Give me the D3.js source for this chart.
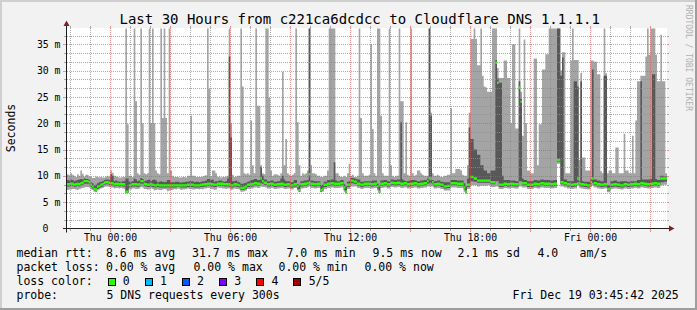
<!DOCTYPE html>
<html><head><meta charset="utf-8">
<script src="https://cdn.jsdelivr.net/npm/d3@7/dist/d3.min.js"></script>
<style>html,body{margin:0;padding:0;background:#f2f2f2;}svg{display:block;}</style>
</head><body>
<svg id="chart" width="697" height="310"></svg>
<script>
// ---------------- data ----------------
const titleText = "Last 30 Hours from c221ca6dcdcc to Cloudflare DNS 1.1.1.1";
const yLabelText = "Seconds";
const watermarkText = "RRDTOOL / TOBI OETIKER";
const startTime = new Date(2025, 11, 17, 21, 51);
const endTime = new Date(2025, 11, 19, 3, 51);
const stepMinutes = 5;
const yMax = 38;

// max ping (ms), one value per 5 minutes
const hi = [
10.3,10.1,10.5,10.2,10.0,9.8,10.3,10.0,11.0,10.4,9.9,10.2,10.2,9.9,9.8,9.6,9.6,9.9,9.8,9.7,
9.8,9.7,9.7,9.9,10.0,9.8,11.0,10.6,10.0,9.9,9.8,9.7,9.7,9.8,9.8,60,19.8,10.0,10.0,9.8,
60,24.2,10.5,10.2,60,20,10.5,10.3,10.5,60,20,60,20,11,10.5,10.3,60,21,60,21,
10.5,60,11,10,9.8,9.8,9.8,9.7,9.7,9.8,9.8,9.7,10,10,21.4,10,10,9.8,9.8,9.8,
9.8,9.9,10,10.1,60,26.5,9.9,11,11,10.5,9.8,9.9,9.7,9.8,9.8,9.9,10,60,20,10.2,
9.8,9.9,10,10,60,27,10.5,10.3,10.5,10.2,20.5,12,10.5,60,23.3,23.3,12,10.5,10.3,60,
60,24.8,11,10,10.3,10.3,10.2,10,10.5,29.8,12,17,10.5,10.2,10,10.2,10.5,60,20.2,12,
10,10.5,10.3,10.5,11,60,12,10.5,10.5,10.3,10,10,9.8,9.8,10,10,11,60,60,60,
60,10.5,10.5,10,9.8,9.8,10,9.8,10.5,12.3,10,10.2,9.8,9.8,10,60,21,10.5,10,10,
10,10.2,35,18.9,10.5,10,60,60,21.4,10.5,10,10,10,60,12,10,9.8,10,10,60,
24.2,24.2,10.5,20.2,10.2,10,60,10.5,10,10.2,11,11,10.5,10.2,10,10,10,60,22,10.5,
10,10,10.2,10,9.8,9.8,10,10,10.2,10.2,22.9,10.5,10.5,11.3,11.3,11.3,11,10.2,10,10,
12,22,36,36,60,36,31,31,60,29,27,26.8,26,26,26,60,60,60,30.5,28.6,
28.6,28.6,31.9,31.9,28.6,28.6,20,35,35,19,19,60,26,17.6,35.9,20,11,11,10.5,10.5,
32.3,32.3,12,19.8,19.8,30.2,30.2,33.1,33.1,60,60,60,60,60,60,60,30,33.5,33.5,10.5,
10.5,10.5,31.9,60,32,32,32,13,29.6,13.5,13.5,11,11,11,31.9,31.9,31.7,31.7,29.3,29.3,
10.9,10.5,60,29.5,10.5,11,11,10.5,10.5,15.4,15.4,10.5,10.5,10.5,18,11,11,10.5,10.5,17.6,
10.5,20.5,28,28,29,29,29,32.7,60,33,60,60,60,33,28,28,36.8,28,28,10.5
];
// 4th ping (ms)
const q3 = [
9.2,9.1,9.3,9.2,9.0,9.1,9.2,9.3,9.4,9.3,9.5,9.4,9.4,9.2,8.8,8.6,8.2,8.3,8.6,8.8,
8.9,9.0,9.2,9.3,9.3,9.2,10.3,10.0,9.0,9.1,9.0,8.9,8.9,9.0,9.0,9.5,9.5,8.9,8.9,9.0,
9.5,9.3,9.0,9.1,9.6,9.4,9.0,9.1,9.2,9.3,9.0,9.2,9.3,9.1,8.8,8.9,9.0,8.9,8.8,8.9,
9.2,9.2,8.8,8.8,8.8,8.9,8.9,8.8,8.7,8.8,8.8,8.9,8.9,9.0,9.0,9.0,8.8,8.9,8.9,8.8,
8.9,9.0,9.0,9.1,9.4,9.4,9.2,9.3,8.9,9.0,9.0,9.1,9.1,9.0,8.9,9.0,9.5,32.7,17.3,9.0,
9.0,9.1,8.9,8.8,8.5,8.5,8.6,8.7,8.9,9.0,9.2,9.2,9.4,9.4,9.2,9.2,11.7,10.0,9.3,9.3,
9.0,9.0,9.1,9.1,8.9,8.9,9.0,9.0,9.5,10.0,9.3,9.0,9.0,9.0,8.8,8.8,9.2,9.2,8.4,8.2,
9.0,9.0,9.1,9.1,9.2,60,9.1,9.1,9.0,9.0,9.0,9.0,8.2,8.3,8.9,8.9,9.2,9.2,9.3,9.3,
12.6,9.1,9.0,9.0,9.2,9.2,8.4,8.0,8.9,9.0,9.6,9.6,9.5,9.4,9.3,9.3,8.9,8.9,9.0,9.0,
9.0,9.0,9.0,9.1,9.1,9.1,8.5,8.0,9.1,9.1,9.2,9.2,9.0,9.0,9.3,9.3,9.2,9.2,9.3,9.3,
20.2,9.3,9.1,9.0,9.0,9.1,9.2,9.2,9.2,9.1,9.0,9.0,9.1,9.1,9.2,9.2,9.5,60,21.4,9.2,
9.0,9.0,9.1,9.1,8.9,8.9,8.8,8.8,8.8,8.8,9.2,9.2,9.2,9.2,9.1,9.1,9.1,9.1,8.6,8.0,
9.5,19.2,17,17,15,15,14,14,12,12,11,11,10.5,10.5,11,11,11,32,28.5,27.7,
27.7,10,9.2,9.2,9.2,9.2,9.1,9.1,9.1,9.0,9.0,28,24.6,9.5,9.2,9.2,9.0,9.0,9.0,9.0,
9.2,9.2,9.1,9.1,9.3,9.3,9.2,9.2,9.2,9.2,9.1,9.1,9.2,9.2,60,60,29,32.5,9.3,9.3,
9.0,9.0,9.0,9.0,28,28,27,9.0,28,9.0,8.9,8.9,8.9,8.9,9.3,30.2,9.3,9.3,9.1,9.1,
9.0,9.0,29,29,8.2,8.2,9.0,9.0,9.1,9.1,8.9,8.9,9.0,9.0,9.0,9.0,8.9,8.9,9.0,9.0,
9.0,9.0,9.2,9.2,28,9.3,9.3,9.3,9.3,9.3,9.4,29.3,29.3,9.4,9.2,9.2,10.0,10.0,9.9,9.9
];
// median rtt (ms)
const med = [
8.4,8.4,8.5,8.5,8.3,8.4,8.5,8.4,8.6,8.7,9.0,9.0,9.0,8.8,8.3,8.0,7.5,7.4,7.9,8.1,
8.3,8.4,8.7,8.8,8.8,8.7,8.6,8.6,8.4,8.5,8.5,8.4,8.5,8.4,8.4,7.0,7.0,8.2,8.3,8.4,
8.4,8.4,8.3,8.4,9.0,9.0,8.5,8.4,8.3,8.3,8.4,8.3,8.2,8.2,8.3,8.2,8.2,8.2,8.2,8.2,
8.2,8.2,8.2,8.2,8.2,8.2,8.2,8.2,8.2,8.2,8.2,8.2,8.3,8.3,8.3,8.3,8.2,8.2,8.2,8.2,
8.3,8.3,8.4,8.4,8.5,8.5,8.4,8.4,8.3,8.3,8.5,8.5,8.5,8.5,8.4,8.4,8.4,8.4,8.2,8.2,
8.4,8.4,8.3,8.2,7.7,7.7,7.8,8.0,8.3,8.3,8.4,8.4,8.6,8.6,8.5,8.5,9.5,9.0,8.7,8.7,
8.4,8.4,8.5,8.5,8.3,8.3,8.4,8.4,8.5,8.5,8.3,8.3,8.4,8.4,8.2,8.2,8.4,8.4,8.0,7.3,
8.4,8.4,8.5,8.5,8.6,10.3,8.5,8.5,8.4,8.4,8.5,8.5,7.3,7.5,8.3,8.3,8.5,8.5,8.6,8.6,
8.5,8.5,8.5,8.5,8.6,8.6,7.8,7.0,8.3,8.3,9.1,9.1,8.9,8.9,8.5,8.5,8.3,8.3,8.5,8.5,
8.5,8.5,8.4,8.4,8.5,8.5,8.0,7.0,8.5,8.5,8.6,8.6,8.4,8.4,8.7,8.7,8.6,8.6,8.7,8.7,
8.5,8.5,8.6,8.6,8.4,8.4,8.5,8.5,8.6,8.6,8.4,8.4,8.5,8.5,8.6,8.6,9.0,9.5,9.5,8.8,
8.4,8.4,8.5,8.5,8.3,8.3,8.0,8.0,8.1,8.1,8.6,8.6,8.6,8.6,8.5,8.5,8.5,8.5,7.8,7.0,
8.3,8.3,9.8,9.8,9.5,9.5,9.1,9.1,9.1,9.1,9.1,9.1,9.1,9.1,8.8,8.8,8.8,31.5,27.7,8.3,
8.3,8.3,8.5,8.5,8.4,8.4,8.5,8.5,8.4,8.4,8.4,26.8,24.1,8.6,8.6,8.6,8.3,8.3,8.3,8.3,
8.5,8.5,8.4,8.4,8.6,8.6,8.5,8.5,8.5,8.5,8.4,8.4,8.5,8.5,13.0,13.0,8.8,8.8,8.6,8.6,
8.4,8.4,8.3,8.3,8.4,8.4,9.5,8.6,8.4,8.4,8.3,8.3,8.2,8.2,8.8,9.5,8.6,8.6,8.4,8.4,
8.3,8.3,8.4,8.4,7.5,7.5,8.3,8.3,8.4,8.4,8.3,8.3,8.2,8.2,8.4,8.4,8.3,8.3,8.4,8.4,
8.5,8.5,8.4,8.4,8.6,8.6,8.5,8.5,8.4,8.4,8.5,8.5,8.6,8.6,8.5,8.5,9.5,9.5,9.5,9.5
];
// 2nd ping (ms)
const q1 = [
8.0,8.0,8.1,8.1,7.9,8.0,8.1,8.0,8.2,8.3,8.5,8.5,8.5,8.4,7.9,7.6,7.2,7.1,7.5,7.7,
7.9,8.0,8.3,8.4,8.4,8.3,8.2,8.2,8.0,8.1,8.1,8.0,8.1,8.0,8.0,6.8,6.8,7.8,7.9,8.0,
8.0,8.0,7.9,8.0,8.5,8.5,8.1,8.0,7.9,7.9,8.0,7.9,7.8,7.8,7.9,7.8,7.8,7.8,7.8,7.8,
7.8,7.8,7.8,7.8,7.8,7.8,7.9,7.9,7.8,7.8,7.8,7.8,7.9,7.9,7.9,7.9,7.8,7.8,7.8,7.8,
7.9,7.9,8.0,8.0,8.1,8.1,8.0,8.0,7.9,7.9,8.1,8.1,8.1,8.1,8.0,8.0,8.0,8.0,7.8,7.8,
8.0,8.0,7.9,7.8,7.3,7.3,7.4,7.6,7.9,7.9,8.0,8.0,8.2,8.2,8.1,8.1,8.6,8.5,8.3,8.3,
8.0,8.0,8.1,8.1,7.9,7.9,8.0,8.0,8.1,8.1,7.9,7.9,8.0,8.0,7.8,7.8,8.0,8.0,7.5,7.0,
8.0,8.0,8.1,8.1,8.2,9.0,8.1,8.1,8.0,8.0,8.1,8.1,7.0,7.2,7.9,7.9,8.1,8.1,8.2,8.2,
8.1,8.1,8.1,8.1,8.2,8.2,7.3,6.8,7.9,7.9,8.6,8.6,8.5,8.5,8.1,8.1,7.9,7.9,8.1,8.1,
8.1,8.1,8.0,8.0,8.1,8.1,7.6,6.8,8.1,8.1,8.2,8.2,8.0,8.0,8.3,8.3,8.2,8.2,8.3,8.3,
8.1,8.1,8.2,8.2,8.0,8.0,8.1,8.1,8.2,8.2,8.0,8.0,8.1,8.1,8.2,8.2,8.5,8.6,8.6,8.4,
8.0,8.0,8.1,8.1,7.9,7.9,7.6,7.6,7.7,7.7,8.2,8.2,8.2,8.2,8.1,8.1,8.1,8.1,7.4,6.8,
7.9,7.9,9.0,9.0,8.9,8.9,8.7,8.7,8.7,8.7,8.7,8.7,8.7,8.7,8.4,8.4,8.4,9.0,9.0,7.9,
7.9,7.9,8.1,8.1,8.0,8.0,8.1,8.1,8.0,8.0,8.0,9.0,9.0,8.2,8.2,8.2,7.9,7.9,7.9,7.9,
8.1,8.1,8.0,8.0,8.2,8.2,8.1,8.1,8.1,8.1,8.0,8.0,8.1,8.1,12.7,12.7,8.4,8.4,8.2,8.2,
8.0,8.0,7.9,7.9,8.0,8.0,8.8,8.2,8.0,8.0,7.9,7.9,7.8,7.8,8.4,8.7,8.2,8.2,8.0,8.0,
7.9,7.9,8.0,8.0,7.2,7.2,7.9,7.9,8.0,8.0,7.9,7.9,7.8,7.8,8.0,8.0,7.9,7.9,8.0,8.0,
8.1,8.1,8.0,8.0,8.2,8.2,8.1,8.1,8.0,8.0,8.1,8.1,8.2,8.2,8.1,8.1,8.8,8.8,8.9,8.9
];
// min ping (ms)
const lo = [
7.3,7.4,7.4,7.5,7.5,7.4,7.3,7.5,7.6,7.7,7.8,7.9,7.9,7.8,7.4,7.3,7.0,6.9,7.2,7.4,
7.6,7.7,7.9,8.0,8.0,7.9,7.8,7.8,7.6,7.7,7.7,7.6,7.7,7.6,7.5,6.7,6.7,7.4,7.4,7.6,
7.6,7.5,7.5,7.6,7.9,7.8,7.5,7.5,7.4,7.4,7.6,7.5,7.2,7.3,7.4,7.3,7.3,7.4,7.5,7.4,
7.1,7.2,7.3,7.3,7.5,7.4,7.6,7.5,7.3,7.4,7.4,7.5,7.6,7.5,7.5,7.4,7.4,7.5,7.5,7.4,
7.5,7.4,7.6,7.6,7.7,7.7,7.5,7.5,7.3,7.4,7.8,7.7,7.7,7.6,7.6,7.5,7.6,7.6,7.3,7.4,
7.6,7.5,7.5,7.4,7.0,7.0,7.1,7.2,7.5,7.5,7.6,7.6,7.8,7.8,7.7,7.7,8.0,7.9,7.9,7.8,
7.6,7.6,7.7,7.7,7.5,7.5,7.6,7.6,7.7,7.7,7.5,7.5,7.6,7.6,7.4,7.4,7.7,7.7,7.2,6.9,
7.6,7.6,7.7,7.7,7.8,8.0,7.7,7.7,7.6,7.6,7.7,7.7,6.9,7.0,7.5,7.5,7.7,7.7,7.8,7.8,
7.7,7.7,7.7,7.7,7.8,7.8,7.0,6.6,7.5,7.5,8.0,8.0,8.0,8.0,7.7,7.7,7.5,7.5,7.7,7.7,
7.7,7.7,7.6,7.6,7.7,7.7,7.2,6.6,7.7,7.7,7.8,7.8,7.6,7.6,7.9,7.9,7.8,7.8,7.9,7.9,
7.7,7.7,7.8,7.8,7.6,7.6,7.7,7.7,7.8,7.8,7.6,7.6,7.7,7.7,7.8,7.8,8.0,8.0,8.0,8.0,
7.6,7.6,7.7,7.7,7.5,7.5,7.2,7.2,7.2,7.2,7.8,7.8,7.8,7.8,7.7,7.7,7.7,7.7,7.0,6.6,
7.5,7.5,8.2,8.2,8.2,8.2,8.0,8.0,8.1,8.1,8.1,8.1,8.2,8.2,7.9,7.9,7.9,8.0,8.0,7.5,
7.5,7.5,7.7,7.7,7.6,7.6,7.7,7.7,7.6,7.6,7.6,8.0,8.0,7.8,7.8,7.8,7.5,7.5,7.5,7.5,
7.7,7.7,7.6,7.6,7.8,7.8,7.7,7.7,7.7,7.7,7.6,7.6,7.7,7.7,12.3,12.3,8.0,8.0,7.8,7.8,
7.6,7.6,7.5,7.5,7.6,7.6,8.2,7.8,7.6,7.6,7.5,7.5,7.4,7.4,7.9,8.1,7.8,7.8,7.6,7.6,
7.5,7.5,7.6,7.6,6.9,6.9,7.5,7.5,7.6,7.6,7.5,7.5,7.4,7.4,7.6,7.6,7.5,7.5,7.6,7.6,
7.7,7.7,7.6,7.6,7.8,7.8,7.7,7.7,7.6,7.6,7.7,7.7,7.8,7.8,7.7,7.7,8.2,8.2,8.3,8.3
];

const yTickValues = [0, 5, 10, 15, 20, 25, 30, 35];
const yTickLabels = ["0", "5 m", "10 m", "15 m", "20 m", "25 m", "30 m", "35 m"];
const xLabelTimes = [new Date(2025,11,18,0,0), new Date(2025,11,18,6,0), new Date(2025,11,18,12,0), new Date(2025,11,18,18,0), new Date(2025,11,19,0,0)];
const xLabels = ["Thu 00:00", "Thu 06:00", "Thu 12:00", "Thu 18:00", "Fri 00:00"];

const legendRtt = [["median rtt:",16.5],["8.6 ms avg",106],["31.7 ms max",192],["7.0 ms min",286.5],["9.5 ms now",372.5],["2.1 ms sd",457.5],["4.0",537.5],["am/s",579.5]];
const legendLoss = [["packet loss:",16.5],["0.00 % avg",106],["0.00 % max",193.5],["0.00 % min",278.5],["0.00 % now",364.5]];
const lossLabels = ["0","1","2","3","4","5/5"];
const lossColors = ["#26ff00","#00b8ff","#0059ff","#7e00ff","#ff0000","#a10000"];
const probeText = "5 DNS requests every 300s";
const dateText = "Fri Dec 19 03:45:42 2025";

// ---------------- drawing ----------------
const W = 697, H = 310;
const svg = d3.select("#chart");
const MONO = "'DejaVu Sans Mono', monospace";
const plot = {left: 67, right: 667, top: 28.5, bottom: 228.5};

const x = d3.scaleTime().domain([startTime, endTime]).range([plot.left, plot.right]);
const y = d3.scaleLinear().domain([0, yMax]).range([plot.bottom, plot.top]);

// background & frame
svg.append("rect").attr("width", W).attr("height", H).attr("fill", "#f2f2f2");
svg.append("rect").attr("x",0).attr("y",0).attr("width",W).attr("height",2).attr("fill","#cfcfcf");
svg.append("rect").attr("x",0).attr("y",0).attr("width",2).attr("height",H).attr("fill","#cfcfcf");
svg.append("rect").attr("x",0).attr("y",H-2).attr("width",W).attr("height",2).attr("fill","#9e9e9e");
svg.append("rect").attr("x",W-2).attr("y",0).attr("width",2).attr("height",H).attr("fill","#9e9e9e");

// canvas
svg.append("rect").attr("x", plot.left).attr("y", 28).attr("width", plot.right - plot.left).attr("height", 200).attr("fill", "#ffffff");

svg.append("clipPath").attr("id","clip").append("rect")
  .attr("x", plot.left).attr("y", 28).attr("width", plot.right - plot.left).attr("height", 200.5);

const rows = hi.map((h, i) => ({
  t: new Date(+startTime + i * stepMinutes * 60000),
  lo: lo[i], q1: q1[i], med: med[i], q3: q3[i], hi: h
}));
const ext = rows.concat([Object.assign({}, rows[rows.length - 1], {t: endTime})]);
const cap = v => Math.min(v, yMax);

const g = svg.append("g").attr("clip-path", "url(#clip)");
g.append("path").datum(ext)
  .attr("d", d3.area().curve(d3.curveStepAfter).x(d => x(d.t)).y0(d => y(cap(d.lo))).y1(d => y(cap(d.hi))))
  .attr("fill", "#a4a4a4");
g.append("path").datum(ext)
  .attr("d", d3.area().curve(d3.curveStepAfter).x(d => x(d.t)).y0(d => y(cap(d.q1))).y1(d => y(cap(d.q3))))
  .attr("fill", "#585858");
g.append("path").datum(ext)
  .attr("d", d3.area().curve(d3.curveStepAfter).x(d => x(d.t)).y0(d => y(cap(d.med)) + 1.2).y1(d => y(cap(d.med)) - 1.2))
  .attr("fill", lossColors[0]);

// grid
const gridMinor = "rgba(143,143,143,0.75)";
const gridMajor = "rgba(222,79,79,0.6)";
const grid = svg.append("g");
const hourTicks = x.ticks(d3.timeHour.every(1));
hourTicks.forEach(t => {
  const major = t.getHours() % 3 === 0;
  const xx = Math.round(x(t)) + 0.5;
  if (xx <= plot.left + 1 || xx >= plot.right) return;
  const col = major ? gridMajor : gridMinor;
  grid.append("line").attr("x1", xx).attr("x2", xx).attr("y1", 28).attr("y2", 228)
    .attr("stroke", col).attr("stroke-dasharray", "1,1");
  grid.append("line").attr("x1", xx).attr("x2", xx).attr("y1", 26).attr("y2", 28).attr("stroke", col);
  grid.append("line").attr("x1", xx).attr("x2", xx).attr("y1", 229).attr("y2", major ? 232 : 231).attr("stroke", col);
});
const yMinor = d3.range(1, Math.floor(yMax * 3 / 5) + 1).map(k => k * 5 / 3);
yMinor.forEach(v => {
  const major = Math.abs(v / 5 - Math.round(v / 5)) < 1e-6;
  const yy = Math.round(y(v)) + 0.5;
  const col = major ? gridMajor : gridMinor;
  grid.append("line").attr("x1", plot.left).attr("x2", plot.right).attr("y1", yy).attr("y2", yy)
    .attr("stroke", col).attr("stroke-dasharray", "1,1");
  grid.append("line").attr("x1", major ? 63 : 64).attr("x2", 66).attr("y1", yy).attr("y2", yy).attr("stroke", col);
  grid.append("line").attr("x1", plot.right).attr("x2", plot.right + 2).attr("y1", yy).attr("y2", yy).attr("stroke", col);
});

// axes
const axisCol = "#1f1f1f", arrowCol = "#801f1f";
svg.append("line").attr("x1", 63).attr("x2", 671).attr("y1", 228.5).attr("y2", 228.5).attr("stroke", axisCol);
svg.append("line").attr("x1", 66.5).attr("x2", 66.5).attr("y1", 232.5).attr("y2", 24).attr("stroke", axisCol);
svg.append("path").attr("d", "M669,225.5L669,231.5L674.5,228.5Z").attr("fill", arrowCol);
svg.append("path").attr("d", "M63.5,26L69.5,26L66.5,20.5Z").attr("fill", arrowCol);

// y tick labels
svg.append("g").selectAll("text").data(yTickValues).join("text")
  .attr("x", (d, i) => yTickLabels[i].length === 1 ? 48.5 : 60.5)
  .attr("y", d => y(d) + 3.6)
  .attr("text-anchor", "end")
  .attr("font-family", MONO).attr("font-size", "9.8px").attr("fill", "#000")
  .text((d, i) => yTickLabels[i]);

// x labels
svg.append("g").selectAll("text").data(xLabelTimes).join("text")
  .attr("x", d => x(d) + 0.5).attr("y", 240.5)
  .attr("text-anchor", "middle")
  .attr("font-family", MONO).attr("font-size", "9.8px").attr("fill", "#000")
  .text((d, i) => xLabels[i]);

// title
svg.append("text").attr("x", 119.5).attr("y", 24)
  .attr("font-family", MONO).attr("font-size", "14px").attr("fill", "#000")
  .text(titleText);

// y label
svg.append("text").attr("transform", "translate(15,128) rotate(-90)")
  .attr("text-anchor", "middle")
  .attr("font-family", MONO).attr("font-size", "11.5px").attr("fill", "#000")
  .text(yLabelText);

// watermark
svg.append("text").attr("transform", "translate(686,5) rotate(90)")
  .attr("font-family", MONO).attr("font-size", "8px").attr("fill", "#b0b0b0")
  .text(watermarkText);

// legend
const leg = svg.append("g").attr("font-family", MONO).attr("font-size", "11.5px").attr("fill", "#000");
leg.selectAll("text.r1").data(legendRtt).join("text").attr("class","r1")
  .attr("x", d => d[1]).attr("y", 257).text(d => d[0]);
leg.selectAll("text.r2").data(legendLoss).join("text").attr("class","r2")
  .attr("x", d => d[1]).attr("y", 271).text(d => d[0]);
leg.append("text").attr("x", 16.5).attr("y", 285).text("loss color:");
lossLabels.forEach((lab, k) => {
  leg.append("rect").attr("x", 108.5 + k * 37).attr("y", 278.5).attr("width", 7).attr("height", 7)
    .attr("fill", lossColors[k]).attr("stroke", "#000").attr("stroke-width", 1);
  leg.append("text").attr("x", 122.7 + k * 37.2).attr("y", 285).text(lab);
});
leg.append("text").attr("x", 16.5).attr("y", 299).text("probe:");
leg.append("text").attr("x", 106.5).attr("y", 299).text(probeText);
leg.append("text").attr("x", 512.6).attr("y", 299).text(dateText);
</script>
</body></html>
